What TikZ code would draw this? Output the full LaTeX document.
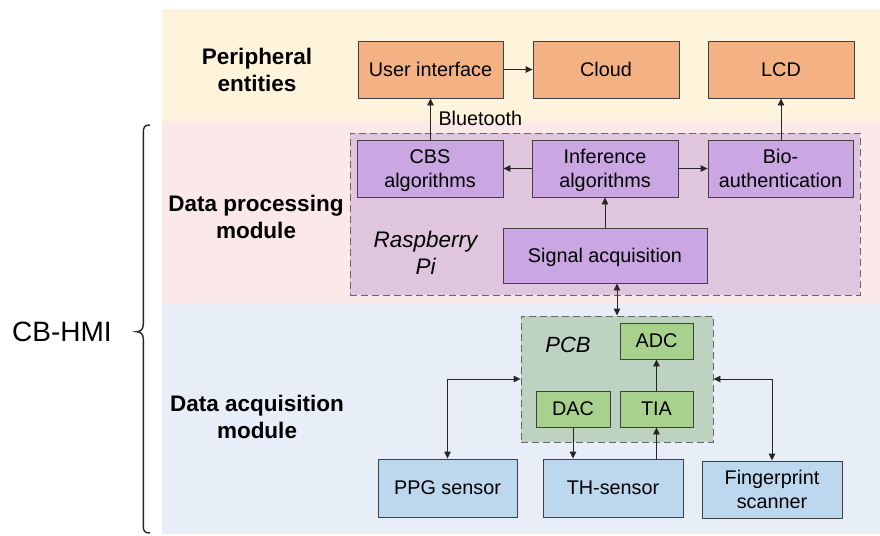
\documentclass[tikz,border=0pt]{standalone}
\usepackage{fontspec}
\setmainfont{Liberation Sans}
\usetikzlibrary{arrows.meta}
\definecolor{bandY}{HTML}{FEF4DC}
\definecolor{bandP}{HTML}{FBE9EA}
\definecolor{bandB}{HTML}{E7EEF8}
\definecolor{rpiF}{HTML}{E0C5DF}
\definecolor{pcbF}{HTML}{BDD2C1}
\definecolor{orF}{HTML}{F4B183}
\definecolor{puF}{HTML}{CAA6E2}
\definecolor{grF}{HTML}{A9D18E}
\definecolor{blF}{HTML}{BDD7EE}
\definecolor{edge}{HTML}{404040}
\tikzset{
  box/.style={draw=edge, line width=0.9pt, inner sep=0pt, align=center, text depth=0pt,
    font=\fontsize{19.8}{24}\selectfont},
  orbox/.style={box, fill=orF},
  pubox/.style={box, fill=puF},
  grbox/.style={box, fill=grF},
  blbox/.style={box, fill=blF},
  region/.style={draw=edge!80, dashed, dash pattern=on 7pt off 4pt, line width=0.9pt, inner sep=0pt},
  conn/.style={draw=black!85, line width=0.9pt, -{Triangle[length=7pt,width=6.5pt]}},
  dconn/.style={draw=black!85, line width=0.9pt, {Triangle[length=7pt,width=6.5pt]}-{Triangle[length=7pt,width=6.5pt]}},
  modlabel/.style={align=center, font=\fontsize{22.5}{27}\selectfont\bfseries},
}
\begin{document}
\begin{tikzpicture}[x=1pt,y=-1pt]
\useasboundingbox (0,0) rectangle (880,535);
% bands
\fill[bandY] (162,9) rectangle (880,121);
\fill[bandP] (162,121) rectangle (880,304);
\fill[bandB] (162,304) rectangle (880,534);
% brace
\draw[line width=1.4pt, black!85] (150,125) .. controls (144.5,125) and (143.3,127) .. (143.3,133) -- (143.3,324)
  .. controls (143.3,329.5) and (140.5,331.7) .. (136.5,331.7)
  .. controls (140.5,331.7) and (143.3,334) .. (143.3,339) -- (143.3,526)
  .. controls (143.3,531) and (144.5,533) .. (150,533);
\node[font=\fontsize{28}{30}\selectfont] (cbhmi) at (62,332) {CB-HMI};
% module labels
\node[modlabel] (lper) at (257,70) {Peripheral\\entities};
\node[modlabel] (lproc) at (256,217) {Data processing\\module};
\node[modlabel] (lacq) at (257,417) {Data acquisition\\module};
% regions
\node[region, fill=rpiF, minimum width=510pt, minimum height=162pt] (rpi) at (605,214) {};
\node[region, fill=pcbF, minimum width=192pt, minimum height=126pt] (pcb) at (617,379) {};
\node[font=\fontsize{22.5}{27}\selectfont\itshape, align=center] (rpitxt) at (425.5,253) {Raspberry\\Pi};
\node[font=\fontsize{22}{24}\selectfont\itshape] (pcbtxt) at (568,345) {PCB};
% peripheral boxes
\node[orbox, minimum width=145pt, minimum height=57pt] (ui) at (430.5,69.5) {User interface};
\node[orbox, minimum width=146pt, minimum height=57pt] (cloud) at (606,69.5) {Cloud};
\node[orbox, minimum width=146pt, minimum height=57pt] (lcd) at (781,69.5) {LCD};
% processing boxes
\node[pubox, minimum width=146pt, minimum height=57pt] (cbs) at (430,168.5) {CBS\\algorithms};
\node[pubox, minimum width=146pt, minimum height=57pt] (inf) at (605,168.5) {Inference\\algorithms};
\node[pubox, minimum width=145pt, minimum height=57pt] (bio) at (780.5,168.5) {Bio-\\authentication};
\node[pubox, minimum width=204pt, minimum height=55pt] (sig) at (605,255.5) {Signal acquisition};
% pcb boxes
\node[grbox, minimum width=73pt, minimum height=36pt] (adc) at (656.5,341) {ADC};
\node[grbox, minimum width=74pt, minimum height=36pt] (dac) at (573,409) {DAC};
\node[grbox, minimum width=73pt, minimum height=36pt] (tia) at (656.5,409) {TIA};
% sensors
\node[blbox, minimum width=139pt, minimum height=58pt] (ppg) at (447.5,488) {PPG sensor};
\node[blbox, minimum width=140pt, minimum height=58pt] (th) at (613,488) {TH-sensor};
\node[blbox, minimum width=140pt, minimum height=57pt] (fp) at (772,489.5) {Fingerprint\\scanner};
% connectors
\draw[conn] (cbs.north -| ui.south) -- (ui.south);
\node[anchor=west, font=\fontsize{19.8}{22}\selectfont] (bt) at (435,118) {Bluetooth};
\draw[conn] (ui.east) -- (cloud.west);
\draw[conn] (bio.north -| lcd.south) -- (lcd.south);
\draw[conn] (inf.west) -- (cbs.east);
\draw[conn] (inf.east) -- (bio.west);
\draw[conn] (sig.north -| inf.south) -- (inf.south);
\draw[dconn] (pcb.north |- sig.south) -- (pcb.north);
\draw[conn] (tia.north) -- (adc.south);
\draw[conn] (dac.south) -- (dac.south |- th.north);
\draw[conn] (tia.south |- th.north) -- (tia.south);
\draw[dconn] (pcb.west) -| (ppg.north);
\draw[dconn] (pcb.east) -| (fp.north);
\end{tikzpicture}
\end{document}
